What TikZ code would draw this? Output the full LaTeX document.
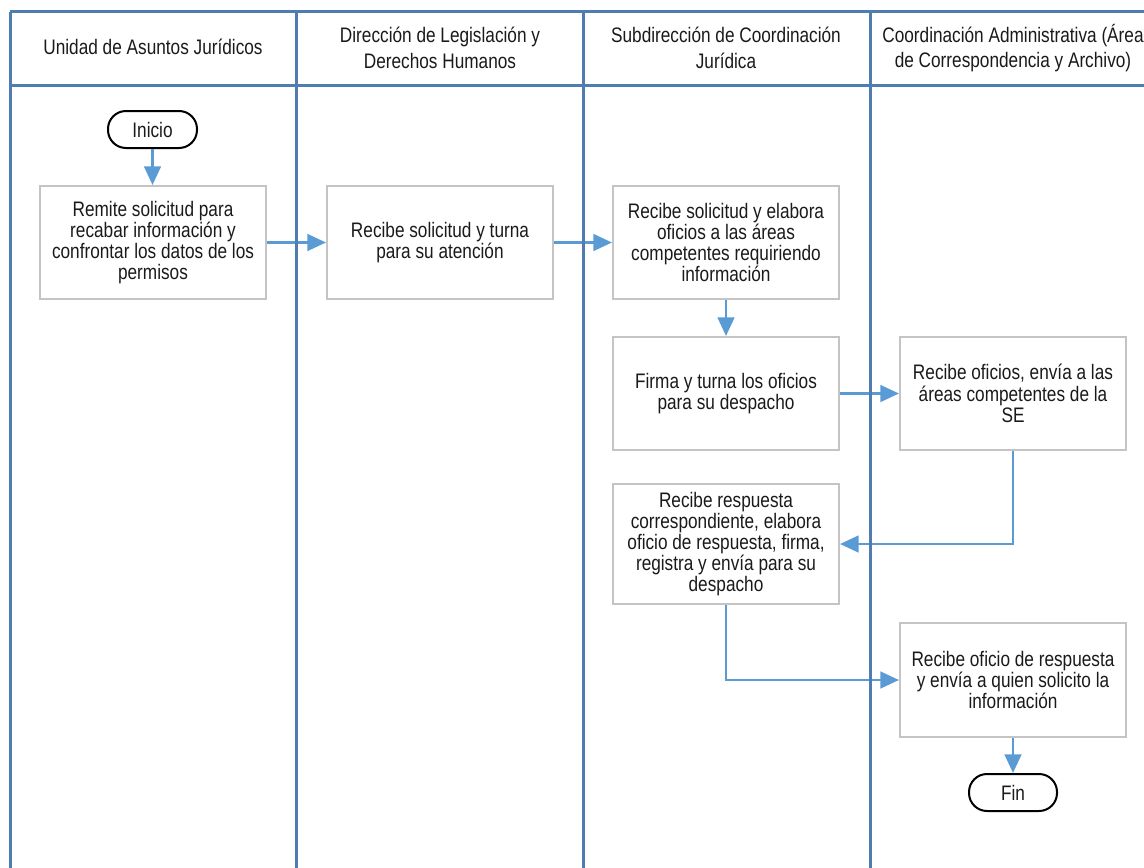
\documentclass[tikz,border=0pt]{standalone}
\usepackage{fontspec}
\setmainfont[FakeStretch=0.82]{Liberation Sans}
\usetikzlibrary{arrows.meta}
\definecolor{laneblue}{HTML}{4F7DB2}
\definecolor{flowblue}{HTML}{5B9BD5}
\definecolor{boxgray}{HTML}{C4C4C4}
\definecolor{ink}{HTML}{1A1A1A}
\begin{document}
\begin{tikzpicture}[x=0.75pt,y=-0.75pt,
  lane/.style={draw=laneblue,line width=2.25pt},
  head/.style={text=ink,align=center,font=\fontsize{15.75}{19}\selectfont},
  stepbox/.style={draw=boxgray,line width=1.5pt,text=ink,align=center,
    minimum width=169.5pt,minimum height=84.75pt,inner sep=0pt,
    font=\fontsize{15.75}{15.9}\selectfont},
  term/.style={draw=black,line width=1.5pt,rounded corners=13.5pt,text=ink,
    minimum height=27.75pt,inner sep=0pt,font=\fontsize{15.75}{15.9}\selectfont},
  flow/.style={draw=flowblue,line width=2pt,
    -{Triangle[length=14pt,width=12.5pt]}}]
\useasboundingbox (0,0) rectangle (1144,867);
\clip (0,0) rectangle (1144,867);

% lane headers
\node[head] (h1) at (153,47) {Unidad de Asuntos Jurídicos};
\node[head] (h2) at (440,48) {Dirección de Legislación y\\Derechos Humanos};
\node[head] (h3) at (726,48) {Subdirección de Coordinación\\Jurídica};
\node[head] (h4) at (1013,48) {Coordinación Administrativa (Área\\de Correspondencia y Archivo)};

% process steps
\node[term,minimum width=66.75pt] (ini) at (152.5,129.5) {Inicio};
\node[stepbox] (rem) at (153,242.5) {Remite solicitud para\\recabar información y\\confrontar los datos de los\\permisos};
\node[stepbox] (tur) at (440,242.5) {Recibe solicitud y turna\\para su atención};
\node[stepbox] (ela) at (726,242.5) {Recibe solicitud y elabora\\oficios a las áreas\\competentes requiriendo\\información};
\node[stepbox] (fir) at (726,393.5) {Firma y turna los oficios\\para su despacho};
\node[stepbox] (rof) at (1013,393.5) {Recibe oficios, envía a las\\áreas competentes de la\\SE};
\node[stepbox,minimum height=90pt] (rre) at (726,544) {Recibe respuesta\\correspondiente, elabora\\oficio de respuesta, firma,\\registra y envía para su\\despacho};
\node[stepbox,minimum height=85.5pt] (ofr) at (1013,680) {Recibe oficio de respuesta\\y envía a quien solicito la\\información};
\node[term,minimum width=66pt] (fin) at (1013,792.5) {Fin};

% connectors
\draw[flow] (ini.south) -- (rem.north -| ini.south);
\draw[flow] (rem.east) -- (tur.west);
\draw[flow] (tur.east) -- (ela.west);
\draw[flow] (ela.south) -- (fir.north);
\draw[flow] (fir.east) -- (rof.west);
\draw[flow] (rof.south) |- (rre.east);
\draw[flow] (rre.south) |- (ofr.west);
\draw[flow] (ofr.south) -- (fin.north);

% swimlane frame
\draw[lane] (10,12) -- (1160,12);
\draw[lane] (10,85) -- (1160,85);
\foreach \lx in {10,296,583,870}
  \draw[lane] (\lx,12) -- (\lx,880);
\end{tikzpicture}
\end{document}
